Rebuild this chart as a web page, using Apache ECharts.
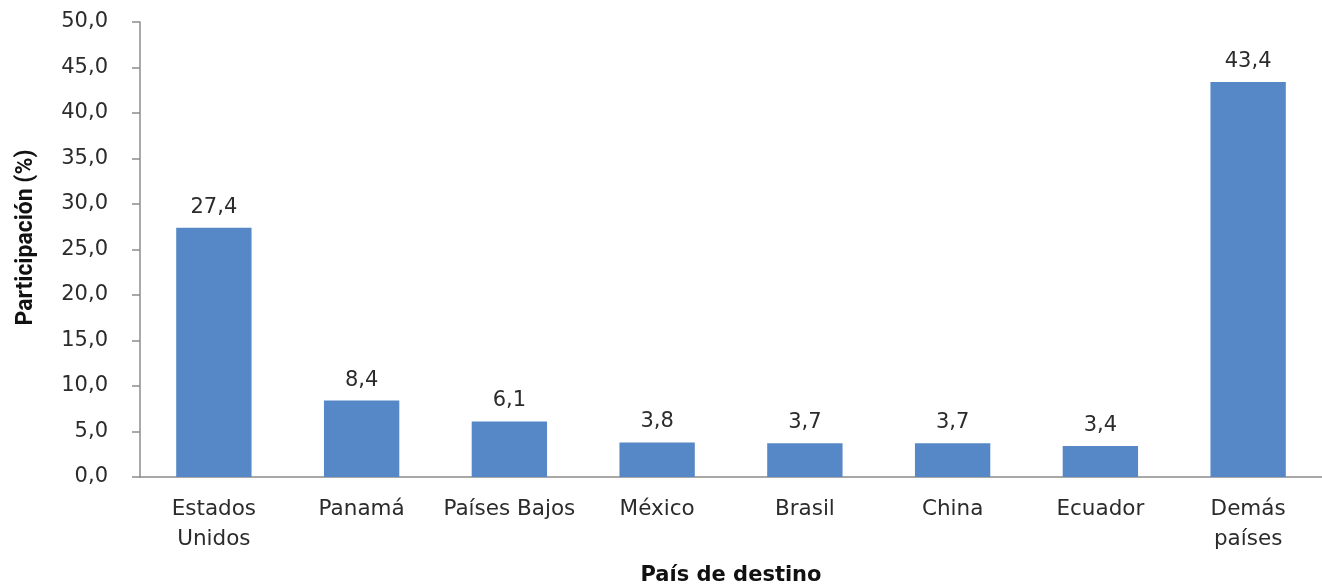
<!DOCTYPE html>
<html>
<head>
<meta charset="utf-8">
<script src="https://cdn.jsdelivr.net/npm/echarts@6/dist/echarts.min.js"></script>
<style>
  html, body { margin: 0; padding: 0; background: #fff; }
  #chart { width: 1322px; height: 586px; }
</style>
</head>
<body>
<div id="chart"></div>
<script>
// datos
const paises = ['Estados\nUnidos', 'Panamá', 'Países Bajos', 'México', 'Brasil', 'China', 'Ecuador', 'Demás\npaíses'];
const participacion = [27.4, 8.4, 6.1, 3.8, 3.7, 3.7, 3.4, 43.4];

const fmt = v => v.toFixed(1).replace('.', ',');

let chart = echarts.init(document.getElementById('chart'));
chart.setOption({
  animation: false,
  textStyle: { fontFamily: 'DejaVu Sans' },
  grid: { left: 140, right: 0, top: 22, bottom: 109, outerBoundsMode: 'none' },
  xAxis: {
    type: 'category',
    data: paises,
    name: 'País de destino',
    nameLocation: 'middle',
    nameGap: 88,
    nameTextStyle: { color: '#111', fontSize: 21, fontWeight: 'bold', fontFamily: 'DejaVu Sans' },
    axisLine: { lineStyle: { color: '#8c8c8c', width: 1.5 } },
    axisTick: { length: 7, lineStyle: { color: '#8c8c8c', width: 1.5 } },
    axisLabel: { color: '#2b2b2b', fontSize: 21.5, margin: 17, lineHeight: 30, interval: 0 }
  },
  yAxis: {
    type: 'value',
    min: 0,
    max: 50,
    interval: 5,
    name: 'Participación (%)',
    nameLocation: 'middle',
    nameGap: 102,
    nameTextStyle: { color: '#111', fontSize: 23, fontWeight: 'bold', fontFamily: 'Roboto', padding: [0, 0, 0, 24] },
    splitLine: { show: false },
    axisLine: { show: true, lineStyle: { color: '#8c8c8c', width: 1.5 } },
    axisTick: { show: true, length: 8, lineStyle: { color: '#8c8c8c', width: 1.5 } },
    axisLabel: { color: '#2b2b2b', fontSize: 21, margin: 32, formatter: v => fmt(v) }
  },
  series: [{
    type: 'bar',
    data: participacion,
    barWidth: '51%',
    itemStyle: { color: '#5688c7' },
    label: {
      show: true,
      position: 'top',
      distance: 10,
      color: '#2b2b2b',
      fontSize: 21,
      formatter: p => fmt(p.value)
    }
  }]
});
</script>
</body>
</html>
